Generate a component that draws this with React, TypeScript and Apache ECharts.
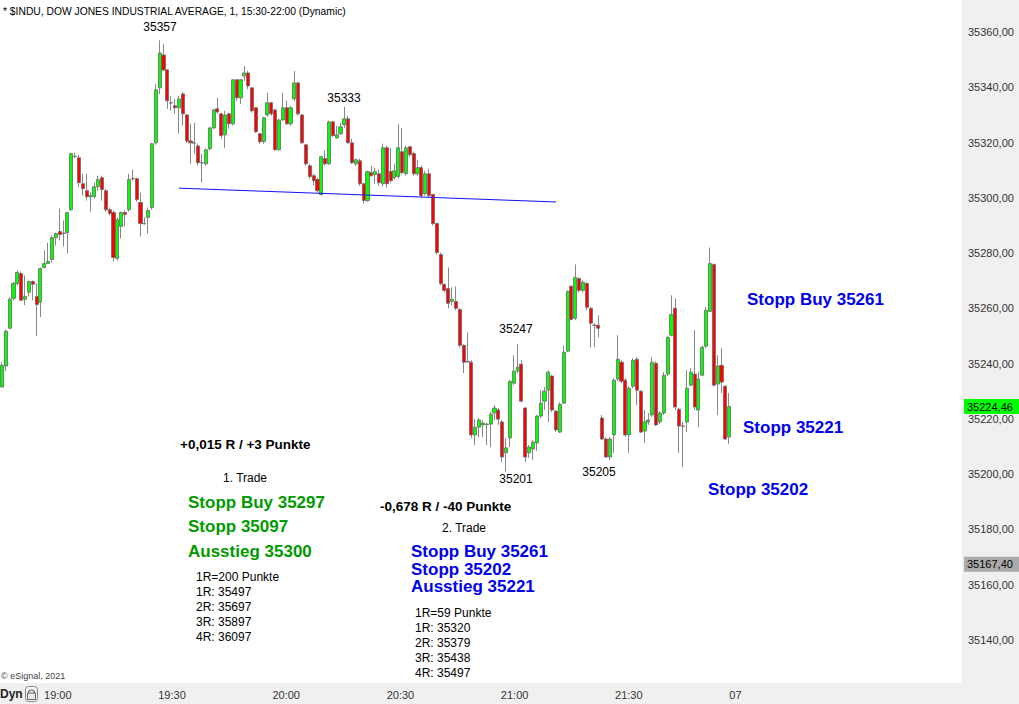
import React, { useEffect, useRef } from 'react';
import * as echarts from 'echarts';

const FONT = '"Liberation Sans", Arial, sans-serif';
const TITLE = '* $INDU, DOW JONES INDUSTRIAL AVERAGE, 1, 15:30-22:00 (Dynamic)';

// 1-minute bars: [open, close, low, high]
const candles: number[][] = [
  [35231.5,35239.4,35231.5,35240.5],[35239.1,35251.7,35237.3,35252.4],[35252.8,35263.3,35252.4,35264],
  [35263.6,35269,35262.9,35269.7],[35269,35273,35268.3,35273.7],[35272.6,35262.9,35262.9,35273.4],
  [35263.3,35264.3,35261.1,35271.9],[35265.8,35269.7,35264.3,35270.1],[35269.7,35268.7,35262.9,35270.1],
  [35264.3,35261.4,35249.9,35269],[35262.2,35274.4,35256.8,35274.8],[35274.8,35276.2,35274.4,35281],
  [35276.2,35277,35276,35283.8],[35277.7,35285.6,35276.6,35286.4],[35285.6,35287.1,35282.7,35287.4],
  [35287.8,35286.7,35284.6,35296.1],[35287.1,35287.2,35282.4,35291.8],[35287.4,35294.7,35279.9,35294.7],
  [35295.7,35316,35295.3,35316.3],[35314.9,35315,35314.5,35316.3],[35314.5,35305.5,35304,35315.6],
  [35305.1,35303.3,35300.8,35308.7],[35302.6,35300.4,35299,35308.7],[35300.4,35300.8,35295,35301.9],
  [35300.4,35304,35299.7,35305.5],[35304,35306.6,35302.6,35308],[35307.3,35303,35299,35308],
  [35302.6,35295.7,35295,35303.3],[35295.7,35294.3,35293.6,35296.5],[35294.7,35278.4,35277,35295.4],
  [35278.1,35292.1,35277.3,35292.9],[35289.6,35294.7,35285.3,35295],[35294.7,35294,35289.6,35295.4],
  [35295.7,35306.6,35295,35308.7],[35307,35306.9,35306.2,35310.2],[35306.9,35299.4,35298.6,35307.3],
  [35298.3,35290.7,35286,35301.9],[35290.7,35290.6,35290.3,35292.9],[35292.9,35295.4,35287.1,35296.5],
  [35296.5,35319.6,35295.7,35319.9],[35319.9,35339.1,35319.2,35341.2],[35339.8,35352.4,35337.6,35357],
  [35351.7,35346.3,35345.9,35355.7],[35346.3,35335.1,35332.2,35346.6],[35334.4,35334.3,35331.5,35336.9],
  [35333.3,35332.6,35330.4,35335.8],[35332.6,35335.8,35323.2,35336.9],[35337.6,35330.4,35326.1,35338.3],
  [35330,35320.6,35319.9,35330.4],[35320.6,35319.9,35312.3,35326.8],[35319.9,35319.8,35316,35327.2],
  [35318.8,35312.7,35311.6,35319.6],[35312.7,35312.6,35305.5,35316],[35312.3,35317.4,35311.6,35317.8],
  [35317.8,35325.3,35317.1,35325.7],[35325.3,35331.8,35325,35332.2],[35332.2,35331.1,35330.4,35336.2],
  [35330.4,35322.5,35321.4,35330.8],[35322.8,35330,35318.1,35331.5],[35330.4,35326.8,35325,35330.8],
  [35326.8,35342.7,35326.1,35343],[35342.7,35336.2,35335.1,35343],[35336.2,35342.7,35334,35343],
  [35344.1,35345.2,35342.3,35347.7],[35345.2,35340.5,35339.4,35345.9],[35339.8,35331.5,35330.8,35340.1],
  [35332.6,35323.9,35323.5,35332.9],[35323.2,35320.3,35319.6,35323.5],[35320.3,35329,35319.6,35329.3],
  [35330,35334.4,35329.3,35338],[35334.4,35330.4,35329.7,35334.7],[35331.8,35317.4,35317.1,35332.2],
  [35317.4,35328.2,35317.1,35328.6],[35328.2,35332.6,35327.9,35338],[35332.6,35326.8,35326.4,35335.1],
  [35326.8,35332.6,35326.1,35333.3],[35335.8,35341.6,35335.1,35345.9],[35341.6,35330.4,35329.7,35342],
  [35330,35319.9,35319.6,35330.4],[35319.2,35312.3,35311.6,35319.6],[35311.6,35307.7,35306.9,35312.3],
  [35308,35306.2,35304.4,35308.7],[35306.6,35302.6,35301.9,35307.3],[35301.2,35314.9,35300.8,35315.2],
  [35314.2,35312.3,35311.6,35317.1],[35312.3,35327.5,35312,35327.9],[35327.5,35322.5,35322.1,35327.9],
  [35321.7,35322.8,35321.4,35326.1],[35323.2,35325.7,35322.8,35327.2],[35326.4,35328.6,35325.3,35333],
  [35328.6,35319.9,35319.6,35329.7],[35319.9,35312.7,35312.3,35321.4],[35312.3,35313.8,35311.6,35314.2],
  [35313.4,35305.1,35304.4,35314.2],[35305.1,35299,35297.9,35305.5],[35299,35309.5,35298.6,35309.8],
  [35309.1,35308,35307.7,35311.6],[35308.4,35309.5,35305.1,35310.9],[35308.7,35305.5,35304.4,35310.2],
  [35305.1,35318.1,35304,35319.6],[35318.1,35305.1,35303.7,35318.8],[35309.5,35306.2,35305.5,35318.1],
  [35307.3,35309.8,35306.6,35312.3],[35307.7,35318.1,35306.9,35326.8],[35316.7,35309.1,35308.4,35325.3],
  [35308.7,35318.1,35308,35318.8],[35318.5,35315.6,35314.9,35318.8],[35316,35308.7,35308,35316.7],
  [35308.7,35310.9,35308,35313.8],[35310.9,35300.8,35300.1,35311.6],[35301.5,35308.7,35300.8,35309.8],
  [35308.7,35300.8,35300.1,35310.5],[35301.2,35290.7,35290,35301.5],[35290.7,35280.2,35279.5,35291],
  [35279.5,35269,35268.3,35280.2],[35268.7,35266.5,35265.8,35269],[35267.2,35261.8,35260,35274.8],
  [35262.5,35263.3,35261.1,35267.6],[35262.5,35260,35259.3,35267.9],[35259.6,35246.6,35245.9,35260],
  [35246.6,35240.5,35236.5,35247],[35240.8,35240.6,35240.5,35251.3],[35240.5,35214.2,35213.1,35241.2],
  [35214.2,35217,35210.5,35220],[35217,35219.6,35213.4,35220.3],[35217.8,35218.5,35213.4,35219.6],
  [35218.1,35218,35210.5,35218.5],[35218.1,35221.7,35209.8,35222.5],[35222.1,35223.9,35219.6,35225],
  [35223.2,35219.9,35217.8,35223.9],[35218.9,35206.2,35204.4,35219.6],[35207.7,35209.5,35201,35213.1],
  [35213.1,35233.6,35209.8,35234],[35232.9,35237.3,35232.2,35243],[35237.3,35238.7,35236.5,35247],
  [35239.8,35226.4,35226,35241.2],[35223.9,35206.2,35204.4,35224.3],[35207.7,35209.8,35205.9,35210.5],
  [35209.1,35211.6,35205.1,35212.3],[35211.3,35221,35208.4,35221.4],[35221,35225.7,35220.3,35230.4],
  [35226.4,35230,35223.2,35231.5],[35230.4,35236.9,35218.9,35237.6],[35235.5,35223.2,35222.5,35235.8],
  [35222.8,35216,35215.2,35223.2],[35215.2,35225.3,35214.9,35226],[35225.7,35244.1,35225.3,35246.6],
  [35244.5,35266.1,35244.1,35266.5],[35268,35256,35255.7,35268.3],[35256.4,35271.2,35255.7,35275.9],
  [35270.8,35266.5,35265.8,35271.2],[35266.5,35269.4,35265.8,35270.1],[35269,35260.4,35259.3,35269.4],
  [35260,35254.6,35245.9,35260.4],[35253.9,35253.8,35245.9,35254.6],[35253.9,35252.8,35249.5,35257.5],
  [35220.3,35212.7,35212.4,35221.4],[35212.7,35206.2,35205.9,35213.4],[35206.2,35212.7,35205,35213.4],
  [35214.2,35234,35207.7,35234.7],[35234.4,35241.6,35233.6,35250.3],[35240.5,35233.6,35232.9,35241.2],
  [35234,35214.2,35213.4,35234.7],[35214.2,35231.1,35207.7,35231.8],[35231.8,35241.2,35231.1,35242],
  [35241.6,35230.4,35225,35242.3],[35230,35215.2,35214.9,35230.4],[35215.6,35218.9,35211.3,35223.2],
  [35218.9,35219.6,35217.8,35222.1],[35221.4,35240.5,35220.7,35242.3],[35240.1,35217.8,35217.4,35240.8],
  [35218.9,35222.1,35218.1,35222.8],[35222.1,35235.8,35221.4,35236.9],[35236.2,35249.5,35235.5,35249.9],
  [35250.3,35257.8,35249.9,35264.7],[35260,35224.3,35223.2,35263.6],[35223.5,35217.4,35207.7,35223.9],
  [35217.4,35217.3,35202.6,35218.9],[35218.9,35231.1,35215.2,35237.6],[35232.2,35236.9,35231.8,35238.3],
  [35236.2,35224.3,35223.2,35252.1],[35223.2,35234.4,35217,35236.9],[35235.8,35245.9,35235.5,35246.6],
  [35246.3,35259.3,35245.6,35260.4],[35258.9,35276.2,35258.6,35282],[35275.9,35232.2,35231.8,35276.2],
  [35232.6,35239.1,35221.4,35243],[35239.4,35233.3,35229.3,35245.6],[35231.8,35212.7,35212.4,35232.2],
  [35213.4,35224.46,35210.9,35229.3],
];

const SLOT_COUNT = 250;
const slots = Array.from({ length: SLOT_COUNT }, (_, i) => 's' + i);

const priceTicks = [35140, 35160, 35180, 35200, 35220, 35240, 35260, 35280, 35300, 35320, 35340, 35360];
const priceMin = 35124.4;
const priceMax = 35371.6;

// time axis in minutes after midnight
const timeTicks = [1140, 1170, 1200, 1230, 1260, 1290, 1320];
const timeLabels = ['19:00', '19:30', '20:00', '20:30', '21:00', '21:30', '07'];
const timeMin = 1128.44;
const timeMax = 1381.13;

const lastPrice = 35224.46;
const refPrice = 35167.4;

// trend line: [bar index, price]
const trendStart = [46, 35303.5];
const trendEnd = [144, 35298.5];

export default function App() {
  const ref = useRef<HTMLDivElement>(null);
  useEffect(() => {
    const el = ref.current!;
    const chart = echarts.init(el, null, { renderer: 'svg' });
    const option: any = {
      animation: false,
      backgroundColor: '#f0f0f0',
      grid: { left: 0, right: 57, top: 0, bottom: 21, show: true, backgroundColor: '#ffffff', borderWidth: 0 },
      xAxis: [
        {
          type: 'category', data: slots, boundaryGap: true,
          axisLine: { show: false }, axisTick: { show: false }, axisLabel: { show: false }, splitLine: { show: false },
        },
        {
          type: 'value', position: 'bottom', min: timeMin, max: timeMax,
          axisLine: { show: false }, axisTick: { show: false }, splitLine: { show: false },
          axisLabel: {
            customValues: timeTicks,
            formatter: (v: number) => { const i = timeTicks.indexOf(Math.round(v)); return i >= 0 ? timeLabels[i] : ''; },
            align: 'left', margin: 6, fontSize: 11, color: '#333', fontFamily: FONT,
          },
        },
      ],
      yAxis: {
        type: 'value', position: 'right', min: priceMin, max: priceMax, scale: true,
        axisLine: { show: false }, axisTick: { show: false }, splitLine: { show: false },
        axisLabel: {
          customValues: priceTicks,
          formatter: (v: number) => v.toFixed(2).replace('.', ','),
          margin: 6, fontSize: 11, color: '#333', fontFamily: FONT,
        },
      },
      series: [
        {
          type: 'candlestick', xAxisIndex: 0, yAxisIndex: 0,
          data: candles, barWidth: 3.6,
          itemStyle: { color: '#00ff00', color0: '#ff0000', borderColor: '#6a6a6a', borderColor0: '#6a6a6a', borderWidth: 0.8 },
          markLine: {
            silent: true, symbol: ['none', 'none'], label: { show: false },
            lineStyle: { color: '#1010ff', width: 1, type: 'solid' },
            data: [[{ coord: trendStart }, { coord: trendEnd }]],
          },
        },
      ],
    };
    chart.setOption(option);

    const yLast = chart.convertToPixel({ yAxisIndex: 0 }, lastPrice) as number;
    const yRef = chart.convertToPixel({ yAxisIndex: 0 }, refPrice) as number;
    const fmt = (v: number) => v.toFixed(2).replace('.', ',');

    const txt = (text: string, x: number, y: number, font: string, fill = '#000', align = 'left') => ({
      type: 'text', x, y, z: 100,
      style: { text, font, fill, align, verticalAlign: 'middle', textAlign: align, textVerticalAlign: 'middle' },
    });
    const reg12 = `12px ${FONT}`;
    const bold13 = `bold 13.5px ${FONT}`;
    const big = `bold 17px ${FONT}`;
    const GREEN = '#009a00';
    const BLUE = '#0000f0';

    const graphics: any[] = [
      txt(TITLE, 3, 11, `10.3px ${FONT}`),
      txt('35357', 160, 27, reg12, '#000', 'center'),
      txt('35333', 344, 98, reg12, '#000', 'center'),
      txt('35247', 516, 329, reg12, '#000', 'center'),
      txt('35201', 516, 479, reg12, '#000', 'center'),
      txt('35205', 599, 472, reg12, '#000', 'center'),
      txt('+0,015 R / +3 Punkte', 180, 444, bold13),
      txt('1. Trade', 223, 478, reg12),
      txt('Stopp Buy 35297', 188, 502, big, GREEN),
      txt('Stopp 35097', 188, 526, big, GREEN),
      txt('Ausstieg 35300', 188, 551, big, GREEN),
      txt('1R=200 Punkte', 196, 577, reg12),
      txt('1R: 35497', 196, 592, reg12),
      txt('2R: 35697', 196, 607, reg12),
      txt('3R: 35897', 196, 622, reg12),
      txt('4R: 36097', 196, 637, reg12),
      txt('-0,678 R / -40 Punkte', 380, 506, bold13),
      txt('2. Trade', 442, 528, reg12),
      txt('Stopp Buy 35261', 411, 551, big, BLUE),
      txt('Stopp 35202', 411, 569, big, BLUE),
      txt('Ausstieg 35221', 411, 586, big, BLUE),
      txt('1R=59 Punkte', 415, 613, reg12),
      txt('1R: 35320', 415, 628, reg12),
      txt('2R: 35379', 415, 643, reg12),
      txt('3R: 35438', 415, 658, reg12),
      txt('4R: 35497', 415, 673, reg12),
      txt('Stopp Buy 35261', 747, 299, big, BLUE),
      txt('Stopp 35221', 743, 427, big, BLUE),
      txt('Stopp 35202', 708, 489, big, BLUE),
      txt('© eSignal, 2021', 1, 676, `9px ${FONT}`, '#444'),
      txt('Dyn', 0, 694, `bold 12px ${FONT}`, '#222'),
      { type: 'rect', z: 100, shape: { x: 25.5, y: 686.5, width: 12, height: 15, r: 3 }, style: { fill: '#f4f4f4', stroke: '#888', lineWidth: 1 } },
      { type: 'arc', z: 101, shape: { cx: 31.5, cy: 693, r: 3, startAngle: Math.PI, endAngle: 2 * Math.PI }, style: { fill: 'none', stroke: '#666', lineWidth: 1.2 } },
      { type: 'rect', z: 101, shape: { x: 27.5, y: 693, width: 8, height: 6.5 }, style: { fill: '#e8e8e8', stroke: '#666', lineWidth: 1 } },
      { type: 'rect', z: 100, shape: { x: 964, y: yRef - 7.5, width: 55, height: 15 }, style: { fill: '#aaaaaa' } },
      txt(fmt(refPrice), 967, yRef, `11px ${FONT}`, '#000'),
      { type: 'rect', z: 100, shape: { x: 964, y: yLast - 7.5, width: 55, height: 15 }, style: { fill: '#00ff00' } },
      txt(fmt(lastPrice), 967, yLast, `11px ${FONT}`, '#000'),
    ];
    chart.setOption({ graphic: graphics });
    return () => chart.dispose();
  }, []);
  return <div ref={ref} style={{ position: 'fixed', left: 0, top: 0, width: 1019, height: 704 }} />;
}
